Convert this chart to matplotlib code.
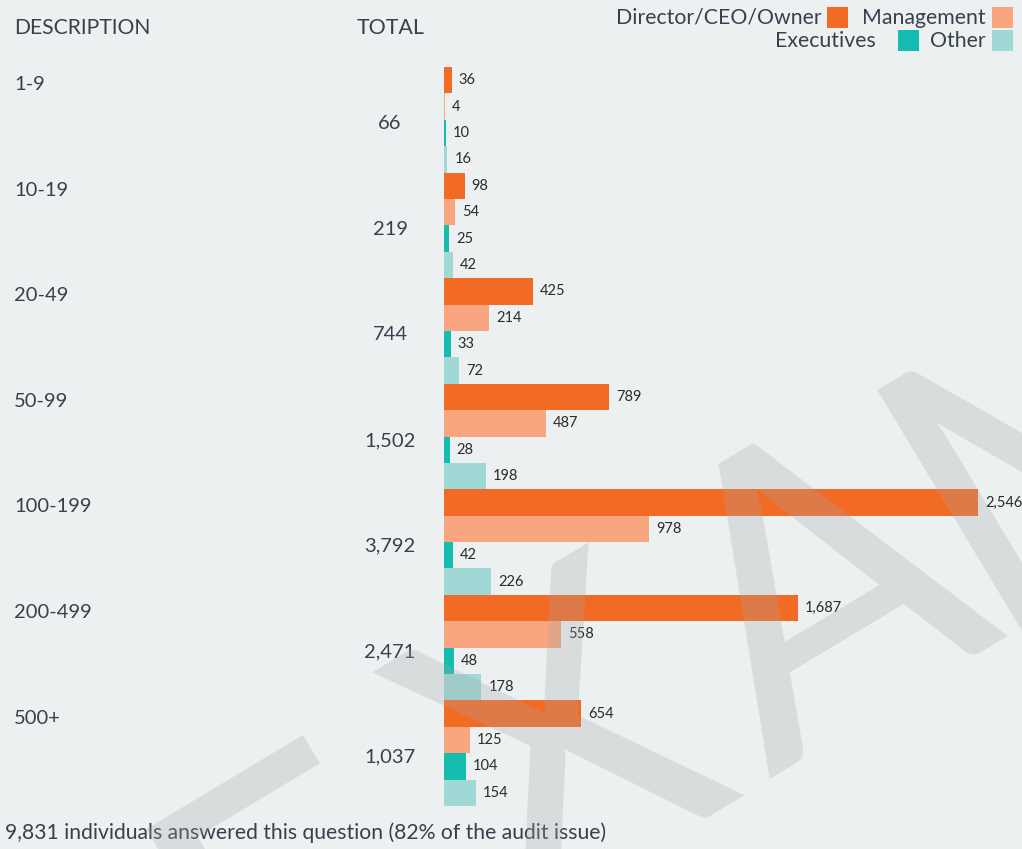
import matplotlib
matplotlib.use("Agg")
import math
import matplotlib.pyplot as plt
import matplotlib.transforms as mtransforms
from matplotlib.patches import Rectangle

categories = ["1-9", "10-19", "20-49", "50-99", "100-199", "200-499", "500+"]
series_names = ["Director/CEO/Owner", "Management", "Executives", "Other"]
director = [36, 98, 425, 789, 2546, 1687, 654]
management = [4, 54, 214, 487, 978, 558, 125]
executives = [10, 25, 33, 28, 42, 48, 104]
other = [16, 42, 72, 198, 226, 178, 154]
footer = "9,831 individuals answered this question (82% of the audit issue)"

colors = ["#f26b25", "#f8a580", "#14bdb0", "#9fd8d5"]
bg = "#ecf0f1"
ink = "#36414d"
font = "Lato"

W, H = 1022, 849
fig = plt.figure(figsize=(W / 100, H / 100), dpi=100, facecolor=bg)
plt.rcParams["font.family"] = [font, "DejaVu Sans"]

# axes for bars: left edge at 444px, rows from 67px to 806px
ax = fig.add_axes([444 / W, 1 - 806 / H, (W - 444) / W, (806 - 67) / H])
ax.set_facecolor(bg)
ax.patch.set_alpha(0)
for s in ax.spines.values():
    s.set_visible(False)
ax.set_xticks([])
ax.set_yticks([])

series = [director, management, executives, other]
n = len(categories)
for j, vals in enumerate(series):
    ys = [i * 4 + j for i in range(n)]
    ax.barh(ys, vals, height=1.0, color=colors[j], linewidth=0)
    for y, v in zip(ys, vals):
        ax.annotate(f"{v:,}", (v, y), xytext=(5, 0), textcoords="offset points",
                    va="center", ha="left", fontsize=10.5, color="#2b2b2b")

ax.set_ylim(n * 4 - 0.5, -0.5)
ax.set_xlim(0, (W - 444) / (534 / 2546))

trans = mtransforms.blended_transform_factory(fig.transFigure, ax.transData)
for i, cat in enumerate(categories):
    total = director[i] + management[i] + executives[i] + other[i]
    fig.text(14 / W, i * 4 + 0.17, cat, transform=trans, ha="left", va="center",
             fontsize=14.5, color=ink)
    fig.text(390 / W, i * 4 + 1.65, f"{total:,}", transform=trans, ha="center",
             va="center", fontsize=14.5, color=ink)

fig.text(14 / W, 1 - 28 / H, "DESCRIPTION", ha="left", va="center", fontsize=15.2, color=ink)
fig.text(391 / W, 1 - 28 / H, "TOTAL", ha="center", va="center", fontsize=15.4, color=ink)

# legend, two rows aligned to the right
legend_items = [(0, 827, 7, 822), (1, 992, 7, 986), (2, 898, 30, 876), (3, 992, 30, 986)]
for j, x0, y0, xt in legend_items:
    fig.patches.append(Rectangle((x0 / W, 1 - (y0 + 21) / H), 21 / W, 21 / H,
                                 transform=fig.transFigure, color=colors[j], linewidth=0))
    fig.text(xt / W, 1 - (y0 + 11) / H, series_names[j], ha="right", va="center",
             fontsize=15.3, color=ink)

fig.text(5 / W, 1 - 833 / H, footer, ha="left", va="center", fontsize=15.2, color=ink)

# watermark, letters placed one by one along a 31 degree baseline
ang = 31
ux, uy = math.cos(math.radians(ang)), -math.sin(math.radians(ang))
ox, oy = 314, 1052
letters = ["E", "X", "A", "M", "P", "L", "E"]
offsets = [-62, 238, 530, 791, 1100, 1350, 1550]
for ch, d in zip(letters, offsets):
    px, py = ox + d * ux, oy + d * uy
    fig.text(px / W, 1 - py / H, ch, rotation=ang, rotation_mode="anchor",
             ha="left", va="baseline", fontsize=298, color="#a4a6a7", alpha=0.27, zorder=10)

fig.savefig("out.png", dpi=100, facecolor=bg)
